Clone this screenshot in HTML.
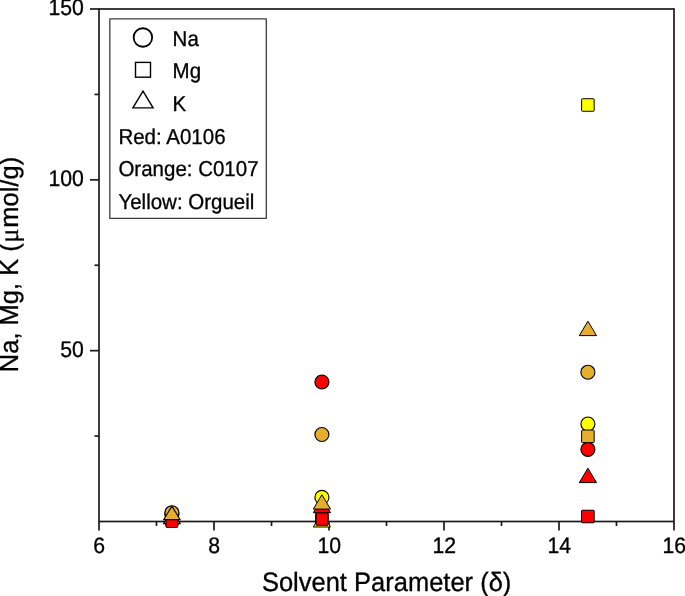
<!DOCTYPE html>
<html><head><meta charset="utf-8"><title>Solvent Parameter</title>
<style>
html,body{margin:0;padding:0;background:#fff;}
body{width:685px;height:596px;overflow:hidden;}
svg{display:block;font-family:"Liberation Sans",sans-serif;fill:#000;text-rendering:geometricPrecision;}
text{stroke:#000;stroke-width:0.3px;}
.mu{font-family:"Liberation Serif",serif;}
</style></head><body>
<svg width="685" height="596" viewBox="0 0 685 596">
<rect x="0" y="0" width="685" height="596" fill="#fff"/>
<g stroke="#1a1a1a" stroke-width="1.7" fill="none">
<rect x="99.0" y="9.0" width="575.0" height="512.5"/>
<line x1="99.0" y1="521.5" x2="99.0" y2="530.5"/>
<line x1="214.0" y1="521.5" x2="214.0" y2="530.5"/>
<line x1="329.0" y1="521.5" x2="329.0" y2="530.5"/>
<line x1="444.0" y1="521.5" x2="444.0" y2="530.5"/>
<line x1="559.0" y1="521.5" x2="559.0" y2="530.5"/>
<line x1="674.0" y1="521.5" x2="674.0" y2="530.5"/>
<line x1="156.5" y1="521.5" x2="156.5" y2="526.0"/>
<line x1="271.5" y1="521.5" x2="271.5" y2="526.0"/>
<line x1="386.5" y1="521.5" x2="386.5" y2="526.0"/>
<line x1="501.5" y1="521.5" x2="501.5" y2="526.0"/>
<line x1="616.5" y1="521.5" x2="616.5" y2="526.0"/>
<line x1="90.0" y1="350.67" x2="99.0" y2="350.67"/>
<line x1="90.0" y1="179.83" x2="99.0" y2="179.83"/>
<line x1="90.0" y1="9.00" x2="99.0" y2="9.00"/>
<line x1="94.5" y1="436.08" x2="99.0" y2="436.08"/>
<line x1="94.5" y1="265.25" x2="99.0" y2="265.25"/>
<line x1="94.5" y1="94.42" x2="99.0" y2="94.42"/>
</g>
<g>
<text transform="translate(99.20,552.70) scale(1,1.055)" font-size="21.2px" text-anchor="middle">6</text>
<text transform="translate(214.20,552.70) scale(1,1.055)" font-size="21.2px" text-anchor="middle">8</text>
<text transform="translate(329.20,552.70) scale(1,1.055)" font-size="21.2px" text-anchor="middle">10</text>
<text transform="translate(444.20,552.70) scale(1,1.055)" font-size="21.2px" text-anchor="middle">12</text>
<text transform="translate(559.20,552.70) scale(1,1.055)" font-size="21.2px" text-anchor="middle">14</text>
<text transform="translate(674.20,552.70) scale(1,1.055)" font-size="21.2px" text-anchor="middle">16</text>
<text transform="translate(83.90,357.27) scale(1,1.07)" font-size="21.2px" text-anchor="end">50</text>
<text transform="translate(83.90,186.43) scale(1,1.07)" font-size="21.2px" text-anchor="end">100</text>
<text transform="translate(83.90,14.70) scale(1,1.07)" font-size="21.2px" text-anchor="end">150</text>
</g>
<text transform="translate(386.60,590.60) scale(1,1.04)" font-size="25.5px" text-anchor="middle">Solvent Parameter (δ)</text>
<text transform="translate(18.40,264.50) rotate(-90) scale(1,1.03)" font-size="25.5px" text-anchor="middle">Na, Mg, K (<tspan class="mu" dx="0.6" font-size="26.5px">μ</tspan><tspan dx="0.8">mol/g)</tspan></text>
<g>
<circle cx="171.90" cy="514.50" r="7.0" fill="#ffff00" stroke="#000" stroke-width="1.15"/>
<rect x="165.62" y="513.23" width="12.55" height="12.55" rx="0.7" fill="#ffff00" stroke="#000" stroke-width="1.0"/>
<polygon points="171.90,509.80 180.10,523.60 163.70,523.60" fill="#ffff00" stroke="#000" stroke-width="1.3" stroke-linejoin="miter"/>
<circle cx="321.90" cy="497.40" r="7.0" fill="#ffff00" stroke="#000" stroke-width="1.15"/>
<rect x="315.62" y="513.23" width="12.55" height="12.55" rx="0.7" fill="#ffff00" stroke="#000" stroke-width="1.0"/>
<polygon points="321.90,512.60 330.50,527.00 313.30,527.00" fill="#ffff00" stroke="#000" stroke-width="1.0" stroke-linejoin="miter"/>
<circle cx="587.90" cy="424.00" r="7.0" fill="#ffff00" stroke="#000" stroke-width="1.15"/>
<rect x="581.62" y="98.72" width="12.55" height="12.55" rx="0.7" fill="#ffff00" stroke="#000" stroke-width="1.0"/>
<circle cx="321.90" cy="382.00" r="7.0" fill="#ff0000" stroke="#000" stroke-width="1.15"/>
<circle cx="587.90" cy="449.30" r="7.0" fill="#ff0000" stroke="#000" stroke-width="1.15"/>
<rect x="166.00" y="514.93" width="11.6" height="12.55" rx="0.7" fill="#ff0000" stroke="#000" stroke-width="1.0"/>
<rect x="316.10" y="512.83" width="11.9" height="12.55" rx="0.7" fill="#ff0000" stroke="#000" stroke-width="1.0"/>
<rect x="581.62" y="510.23" width="12.55" height="12.55" rx="0.7" fill="#ff0000" stroke="#000" stroke-width="1.0"/>
<polygon points="321.90,498.30 330.50,512.70 313.30,512.70" fill="#ff0000" stroke="#000" stroke-width="1.0" stroke-linejoin="miter"/>
<polygon points="587.90,468.20 596.50,482.60 579.30,482.60" fill="#ff0000" stroke="#000" stroke-width="1.0" stroke-linejoin="miter"/>
<circle cx="171.90" cy="512.70" r="7.0" fill="#e5af2d" stroke="#000" stroke-width="1.15"/>
<circle cx="321.90" cy="434.50" r="7.0" fill="#e5af2d" stroke="#000" stroke-width="1.15"/>
<circle cx="587.90" cy="372.20" r="7.0" fill="#e5af2d" stroke="#000" stroke-width="1.15"/>
<rect x="581.62" y="430.03" width="12.55" height="12.55" rx="0.7" fill="#e5af2d" stroke="#000" stroke-width="1.0"/>
<polygon points="171.90,506.15 180.05,519.55 163.75,519.55" fill="#e5af2d" stroke="#000" stroke-width="1.15" stroke-linejoin="miter"/>
<polygon points="321.90,494.70 330.50,509.10 313.30,509.10" fill="#e5af2d" stroke="#000" stroke-width="1.0" stroke-linejoin="miter"/>
<polygon points="587.90,321.20 596.50,335.60 579.30,335.60" fill="#e5af2d" stroke="#000" stroke-width="1.0" stroke-linejoin="miter"/>
</g>
<g>
<rect x="109.8" y="18.9" width="156.5" height="199.4" fill="#fff" stroke="#3c3c3c" stroke-width="1.3" stroke-linejoin="round"/>
<circle cx="142.9" cy="37.5" r="9.25" fill="none" stroke="#000" stroke-width="1.8"/>
<rect x="135.5" y="62.4" width="15" height="14.8" fill="none" stroke="#000" stroke-width="1.4"/>
<polygon points="143,91.2 153.1,107.9 132.9,107.9" fill="none" stroke="#000" stroke-width="1.4"/>
<g>
<text transform="translate(172.60,46.20) scale(1,1.05)" font-size="20.5px" text-anchor="start">Na</text>
<text transform="translate(172.60,78.30) scale(1,1.05)" font-size="20.5px" text-anchor="start">Mg</text>
<text transform="translate(172.60,110.90) scale(1,1.05)" font-size="20.5px" text-anchor="start">K</text>
<text transform="translate(118.40,143.50) scale(1,1.05)" font-size="20.5px" text-anchor="start">Red: A0106</text>
<text transform="translate(118.40,176.10) scale(1,1.05)" font-size="20.5px" text-anchor="start">Orange: C0107</text>
<text transform="translate(118.40,208.80) scale(1,1.05)" font-size="20.5px" text-anchor="start">Yellow: Orgueil</text>
</g>
</g>
</svg>
</body></html>
